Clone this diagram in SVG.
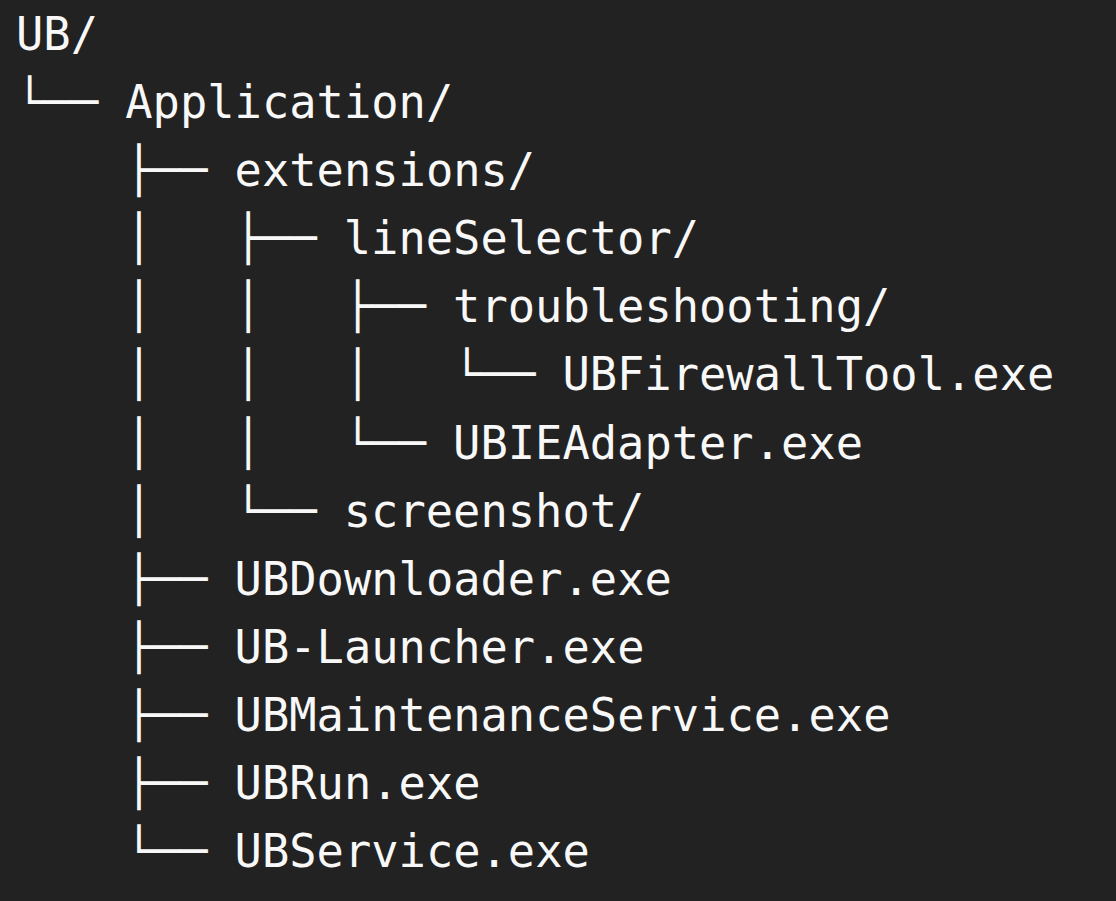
<svg xmlns="http://www.w3.org/2000/svg" width="1116" height="901" viewBox="0 0 1116 901">
<style>
text{font-family:"DejaVu Sans Mono","Liberation Mono",monospace;font-size:45.4px;fill:#f8f8f8;white-space:pre}
</style>
<rect width="1116" height="901" fill="#222222"/>
<g id="connectors" xml:space="preserve">
<text x="16" y="118">└──</text>
<text x="16" y="186">    ├──</text>
<text x="16" y="254">    │   ├──</text>
<text x="16" y="322">    │   │   ├──</text>
<text x="16" y="390">    │   │   │   └──</text>
<text x="16" y="459">    │   │   └──</text>
<text x="16" y="527">    │   └──</text>
<text x="16" y="595">    ├──</text>
<text x="16" y="663">    ├──</text>
<text x="16" y="731">    ├──</text>
<text x="16" y="799">    ├──</text>
<text x="16" y="867">    └──</text>
</g>
<g id="n-ub"><text x="16" y="50">UB/</text></g>
<g id="n-application"><text x="125.3" y="118">Application/</text></g>
<g id="n-extensions"><text x="234.6" y="186">extensions/</text></g>
<g id="n-lineselector"><text x="343.8" y="254">lineSelector/</text></g>
<g id="n-troubleshooting"><text x="453.1" y="322">troubleshooting/</text></g>
<g id="n-ubfirewalltool"><text x="562.4" y="390">UBFirewallTool.exe</text></g>
<g id="n-ubieadapter"><text x="453.1" y="459">UBIEAdapter.exe</text></g>
<g id="n-screenshot"><text x="343.8" y="527">screenshot/</text></g>
<g id="n-ubdownloader"><text x="234.6" y="595">UBDownloader.exe</text></g>
<g id="n-ublauncher"><text x="234.6" y="663">UB-Launcher.exe</text></g>
<g id="n-ubmaintenance"><text x="234.6" y="731">UBMaintenanceService.exe</text></g>
<g id="n-ubrun"><text x="234.6" y="799">UBRun.exe</text></g>
<g id="n-ubservice"><text x="234.6" y="867">UBService.exe</text></g>
</svg>
